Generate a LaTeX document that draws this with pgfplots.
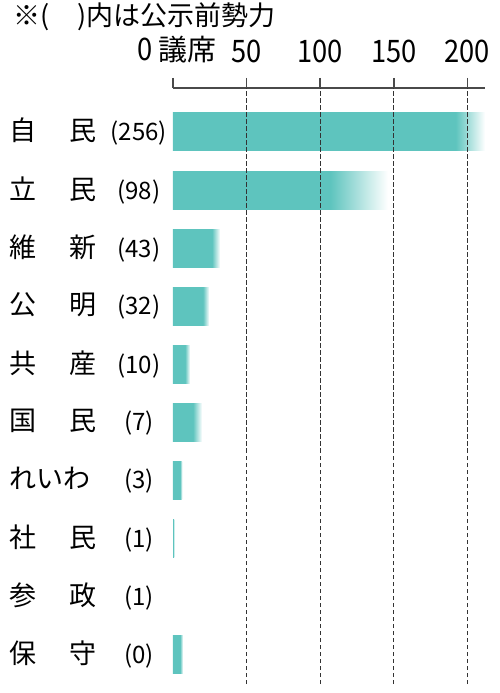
\documentclass[border=0pt]{standalone}
\usepackage{fontspec}
\setmainfont{Noto Sans CJK JP}
\newfontfamily\numfont[FakeStretch=0.88]{Noto Sans CJK JP}
\usepackage{pgfplots}
\pgfplotsset{compat=1.18}
\definecolor{barc}{HTML}{5EC4BE}
\definecolor{gridc}{HTML}{4A4A4A}
\definecolor{dashc}{HTML}{333333}
\newcommand\pn[2]{#1\hspace{32.5pt}#2}
\newcommand\pl[2]{\makebox[100pt][l]{\fontsize{27}{27}\selectfont #1}\makebox[58pt][c]{\fontsize{24}{24}\selectfont(#2)}}
% bar shading: solid up to a point, then fading out to white
% (the middle 25bp..75bp of the shading covers the bar)
\newcommand\fade[2]{\pgfdeclarehorizontalshading{#1}{100bp}{color(0bp)=(barc); color(#2bp)=(barc); color(75bp)=(white); color(100bp)=(white)}}
\fade{fjimin}{70.3}
\fade{frikken}{61.6}
\fade{fishin}{66.4}
\fade{fkomei}{66.5}
\fade{fkyosan}{60.3}
\fade{fkokumin}{59.5}
\fade{freiwa}{63}
\fade{fshamin}{25}
\fade{fhoshu}{60.3}
\pgfplotsset{
  frame/.style={at={(173pt,605pt)}, anchor=north west,
    scale only axis, width=312pt, height=596pt,
    xmin=0, xmax=212, ymin=-0.5, ymax=9.757},
  seatbar/.style={xbar, bar shift=0pt, bar width=38pt, draw=none, shading=#1},
  gridline/.style={dashc, line width=1.3pt, dash pattern=on 4.5pt off 2.5pt},
}
\begin{document}
\begin{tikzpicture}
\useasboundingbox (0,0) rectangle (500pt,693pt);
\node[anchor=west, inner sep=0pt, font=\fontsize{27}{27}\selectfont] at (13pt,676pt) {※(\hspace{28pt})内は公示前勢力};
\begin{axis}[
  frame,
  axis on top,
  axis x line=top, axis y line=left,
  x axis line style={-, line width=1.6pt, color=gridc},
  y axis line style={draw=none},
  xtick={50,100,150,200},
  extra x ticks={0},
  extra x tick labels={{0\,{\rmfamily\fontsize{29}{29}\selectfont 議席}}},
  extra x tick style={xticklabel style={xshift=4pt}},
  tick align=outside, major tick length=10pt,
  xtick style={gridc, line width=1.6pt},
  ytick={0,...,9}, ytick style={draw=none},
  yticklabels={\pl{\pn{保}{守}}{0}, \pl{\pn{参}{政}}{1}, \pl{\pn{社}{民}}{1}, \pl{れいわ}{3}, \pl{\pn{国}{民}}{7}, \pl{\pn{共}{産}}{10}, \pl{\pn{公}{明}}{32}, \pl{\pn{維}{新}}{43}, \pl{\pn{立}{民}}{98}, \pl{\pn{自}{民}}{256}},
  yticklabel style={anchor=east, inner sep=0pt, xshift=5pt},
  /pgf/number format/assume math mode=true,
  xticklabel style={font=\numfont\fontsize{31}{31}\selectfont, anchor=south, inner sep=0pt, yshift=15pt},
]
% one plot per bar, so that each bar gets its own fade
\addplot[seatbar=fjimin]   coordinates {(212,9)};
\addplot[seatbar=frikken]  coordinates {(146,8)};
\addplot[seatbar=fishin]   coordinates {(32,7)};
\addplot[seatbar=fkomei]   coordinates {(24.6,6)};
\addplot[seatbar=fkyosan]  coordinates {(11.6,5)};
\addplot[seatbar=fkokumin] coordinates {(19.7,4)};
\addplot[seatbar=freiwa]   coordinates {(6.3,3)};
\addplot[seatbar=fshamin]  coordinates {(1,2)};
% 参政 (y=1): no bar
\addplot[seatbar=fhoshu]   coordinates {(6.8,0)};
\end{axis}
% same frame again, only for the dashed guides over the bars
\begin{axis}[frame, axis lines=none, xtick=\empty, ytick=\empty]
\addplot[gridline] coordinates {(50,-0.5) (50,9.757)};
\addplot[gridline] coordinates {(100,-0.5) (100,9.757)};
\addplot[gridline] coordinates {(150,-0.5) (150,9.757)};
\addplot[gridline] coordinates {(200,-0.5) (200,9.757)};
\end{axis}
\end{tikzpicture}
\end{document}
